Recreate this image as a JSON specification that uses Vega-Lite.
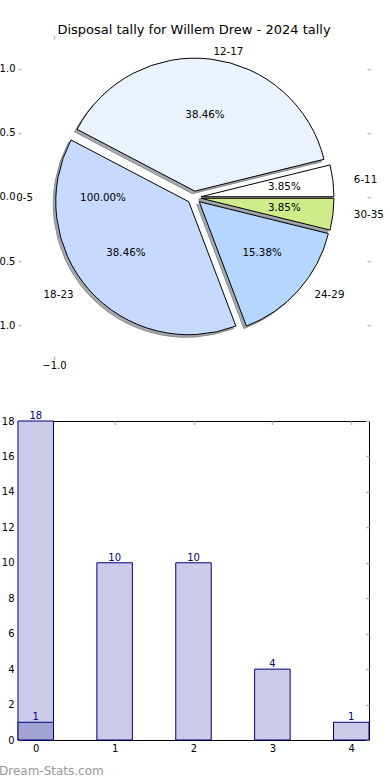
{
  "$schema": "https://vega.github.io/schema/vega-lite/v6.json",
  "background": "white",
  "padding": {"left": -10, "top": 23, "right": 0, "bottom": 0},
  "spacing": 39,
  "config": {
    "font": "DejaVu Sans",
    "view": {"stroke": null},
    "axis": {"grid": false, "domain": false, "title": null, "labelFont": "DejaVu Sans", "labelFontSize": 10, "labelColor": "black", "tickColor": "#bbbbbb", "tickWidth": 1.5, "tickSize": 3.5, "labelOverlap": false}
  },
  "datasets": {
    "pie": [
      {"label": "0-5", "from": 0, "games": 0, "pct": "100.00%"},
      {"label": "6-11", "from": 6, "games": 1, "pct": "3.85%"},
      {"label": "12-17", "from": 12, "games": 10, "pct": "38.46%"},
      {"label": "18-23", "from": 18, "games": 10, "pct": "38.46%"},
      {"label": "24-29", "from": 24, "games": 4, "pct": "15.38%"},
      {"label": "30-35", "from": 30, "games": 1, "pct": "3.85%"}
    ],
    "bars": [
      {"bin": 0, "n": 18, "series": "all"},
      {"bin": 1, "n": 10, "series": "all"},
      {"bin": 2, "n": 10, "series": "all"},
      {"bin": 3, "n": 4, "series": "all"},
      {"bin": 4, "n": 1, "series": "all"},
      {"bin": 0, "n": 1, "series": "sub"}
    ]
  },
  "vconcat": [
    {
      "width": 349,
      "height": 317,
      "title": {"text": "Disposal tally for Willem Drew - 2024 tally", "font": "DejaVu Sans", "fontSize": 13, "fontWeight": "normal", "color": "black", "offset": -2, "dx": 1.5},
      "data": {"name": "pie"},
      "layer": [
        {
          "mark": {"type": "point", "opacity": 0},
          "encoding": {
            "x": {"datum": 0, "type": "quantitative", "scale": {"domain": [-1.2571, 1.2357], "nice": false, "zero": false}, "axis": {"orient": "bottom", "values": [-1], "format": ".1f", "labelPadding": 1}},
            "y": {"datum": 0, "type": "quantitative", "scale": {"domain": [-1.242, 1.234], "nice": false, "zero": false}, "axis": {"orient": "left", "values": [-1, -0.5, 0, 0.5, 1], "format": ".1f", "tickSize": -3, "labelPadding": 6}}
          }
        },
        {
          "mark": {"type": "point", "opacity": 0},
          "encoding": {
            "x": {"datum": 0, "type": "quantitative", "scale": {"domain": [-1.2571, 1.2357], "nice": false, "zero": false}, "axis": {"orient": "top", "values": [-1], "labels": false}},
            "y": {"datum": 0, "type": "quantitative", "scale": {"domain": [-1.242, 1.234], "nice": false, "zero": false}, "axis": {"orient": "right", "values": [-1, -0.5, 0, 0.5, 1], "labels": false}}
          }
        },
        {
          "layer": [
            {
              "transform": [{"filter": "datum.games > 0"}],
              "mark": {"type": "arc", "radius": 133, "fill": "#3c4150", "opacity": 0.45, "stroke": "black", "strokeWidth": 1,
                "xOffset": {"expr": "-1 + 7*cos(PI*(datum.games_start+datum.games_end)/26)"},
                "yOffset": {"expr": "2.5 - 6.4*sin(PI*(datum.games_start+datum.games_end)/26)"}},
              "encoding": {
                "theta": {"field": "games", "type": "quantitative", "stack": true, "scale": {"domain": [0, 26], "range": [1.5708, -4.7124]}},
                "order": {"field": "from", "type": "quantitative"},
                "detail": {"field": "label"}
              }
            },
            {
              "transform": [{"filter": "datum.games > 0"}],
              "mark": {"type": "arc", "radius": 133, "stroke": "black", "strokeWidth": 1,
                "xOffset": {"expr": "1.5 + 7*cos(PI*(datum.games_start+datum.games_end)/26)"},
                "yOffset": {"expr": "-6.4*sin(PI*(datum.games_start+datum.games_end)/26)"}},
              "encoding": {
                "theta": {"field": "games", "type": "quantitative", "stack": true},
                "order": {"field": "from", "type": "quantitative"},
                "fill": {"field": "label", "type": "nominal", "legend": null,
                  "scale": {"domain": ["0-5", "6-11", "12-17", "18-23", "24-29", "30-35"], "range": ["#ffffff", "#ffffff", "#eaf1ff", "#c6d9ff", "#b5d6ff", "#d0eb8a"]}}
              }
            },
            {
              "mark": {"type": "text", "radius": 0, "fontSize": 10.3, "baseline": "middle", "color": "black",
                "align": {"expr": "cos(datum.games==0 ? PI : PI*(datum.games_start+datum.games_end)/26) > 0 ? 'left' : 'right'"},
                "xOffset": {"expr": "1.5 + 161*cos(datum.games==0 ? PI : PI*(datum.games_start+datum.games_end)/26)"},
                "yOffset": {"expr": "-147*sin(datum.games==0 ? PI : PI*(datum.games_start+datum.games_end)/26)"}},
              "encoding": {
                "theta": {"field": "games", "type": "quantitative", "stack": true},
                "order": {"field": "from", "type": "quantitative"},
                "detail": {"field": "label"},
                "text": {"field": "label"}
              }
            },
            {
              "mark": {"type": "text", "radius": 0, "fontSize": 10.3, "baseline": "middle", "align": "center", "color": "black",
                "xOffset": {"expr": "1.5 + 91*cos(datum.games==0 ? PI : PI*(datum.games_start+datum.games_end)/26)"},
                "yOffset": {"expr": "-83.2*sin(datum.games==0 ? PI : PI*(datum.games_start+datum.games_end)/26)"}},
              "encoding": {
                "theta": {"field": "games", "type": "quantitative", "stack": true},
                "order": {"field": "from", "type": "quantitative"},
                "detail": {"field": "label"},
                "text": {"field": "pct"}
              }
            }
          ]
        }
      ],
      "resolve": {"scale": {"x": "independent", "y": "independent"}, "axis": {"x": "independent", "y": "independent"}}
    },
    {
      "width": 351,
      "height": 319,
      "view": {"stroke": "black", "strokeWidth": 1},
      "title": {"text": "Dream-Stats.com", "orient": "bottom", "anchor": "start", "frame": "group", "font": "DejaVu Sans", "fontSize": 12, "fontWeight": "normal", "color": "#999999", "dx": -19, "offset": 12},
      "data": {"name": "bars"},
      "layer": [
        {
          "mark": {"type": "point", "opacity": 0},
          "encoding": {
            "x": {"datum": 0, "type": "quantitative", "scale": {"domain": [-0.225, 4.225], "nice": false, "zero": false}, "axis": {"orient": "bottom", "values": [0, 1, 2, 3, 4], "format": "d", "tickSize": -3.5, "labelPadding": 7}},
            "y": {"datum": 0, "type": "quantitative", "scale": {"domain": [0, 18], "nice": false, "zero": false}, "axis": {"orient": "left", "values": [0, 2, 4, 6, 8, 10, 12, 14, 16, 18], "format": "d", "tickSize": -3.5, "labelPadding": 7.5}}
          }
        },
        {
          "mark": {"type": "point", "opacity": 0},
          "encoding": {
            "x": {"datum": 0, "type": "quantitative", "scale": {"domain": [-0.225, 4.225], "nice": false, "zero": false}, "axis": {"orient": "top", "values": [0, 1, 2, 3, 4], "labels": false, "tickSize": -3.5}},
            "y": {"datum": 0, "type": "quantitative", "scale": {"domain": [0, 18], "nice": false, "zero": false}, "axis": {"orient": "right", "values": [0, 2, 4, 6, 8, 10, 12, 14, 16, 18], "labels": false, "tickSize": -3.5}}
          }
        },
        {
          "layer": [
            {
              "transform": [{"filter": "datum.series == 'all'"}],
              "mark": {"type": "bar", "width": 35.5, "fill": "#ccccea", "stroke": "#000080", "strokeWidth": 1},
              "encoding": {
                "x": {"field": "bin", "type": "quantitative", "scale": {"domain": [-0.225, 4.225], "nice": false, "zero": false, "padding": 0}, "axis": null},
                "y": {"field": "n", "type": "quantitative", "scale": {"domain": [0, 18], "nice": false, "zero": false, "padding": 0}, "axis": null}
              }
            },
            {
              "transform": [{"filter": "datum.series == 'sub'"}],
              "mark": {"type": "bar", "width": 35.5, "fill": "#a3a3d3", "stroke": "#000080", "strokeWidth": 1},
              "encoding": {
                "x": {"field": "bin", "type": "quantitative", "axis": null},
                "y": {"field": "n", "type": "quantitative", "axis": null}
              }
            },
            {
              "mark": {"type": "text", "fontSize": 10, "color": "#000080", "baseline": "alphabetic", "align": "center", "dy": -2},
              "encoding": {
                "x": {"field": "bin", "type": "quantitative", "axis": null},
                "y": {"field": "n", "type": "quantitative", "axis": null},
                "text": {"field": "n", "type": "quantitative"}
              }
            }
          ]
        }
      ],
      "resolve": {"scale": {"x": "independent", "y": "independent"}, "axis": {"x": "independent", "y": "independent"}}
    }
  ]
}
